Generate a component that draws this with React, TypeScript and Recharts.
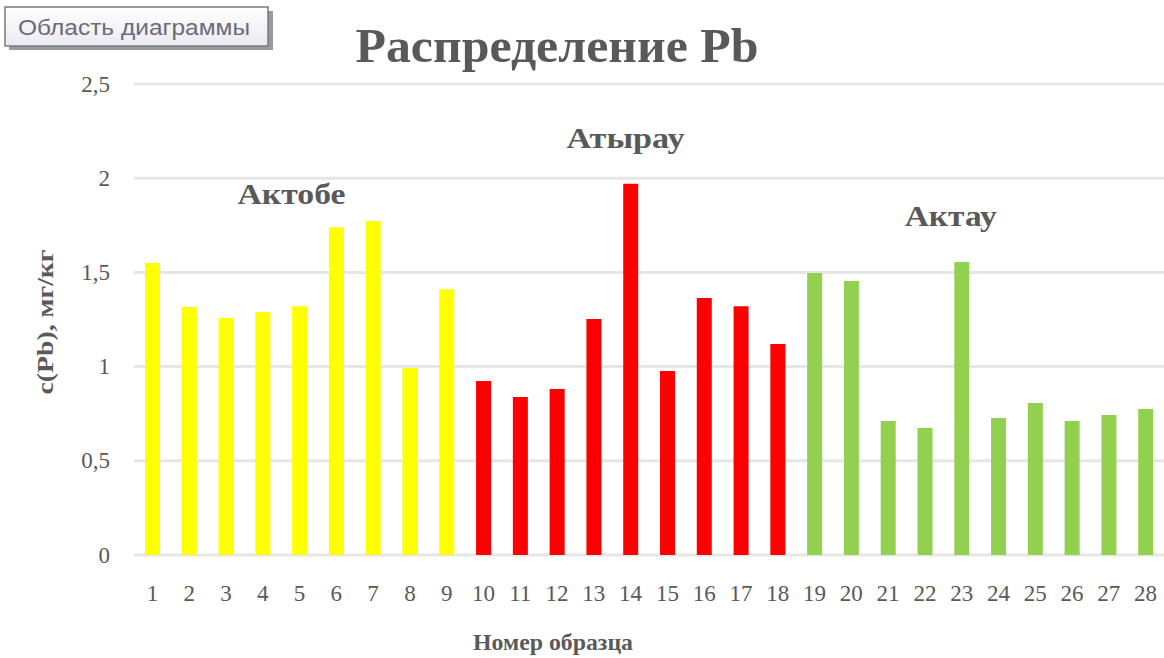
import React from 'react';
import { BarChart, Bar, XAxis, YAxis, CartesianGrid, Cell, ReferenceDot, Label } from 'recharts';

const samples = ['1','2','3','4','5','6','7','8','9','10','11','12','13','14','15','16','17','18','19','20','21','22','23','24','25','26','27','28'];
const pbValues = [1.55,1.316,1.258,1.29,1.32,1.74,1.773,0.993,1.41,0.924,0.839,0.881,1.253,1.97,0.977,1.364,1.32,1.12,1.497,1.454,0.711,0.674,1.555,0.727,0.807,0.711,0.743,0.775];
const sampleRegion = [0,0,0,0,0,0,0,0,0,1,1,1,1,1,1,1,1,1,2,2,2,2,2,2,2,2,2,2];
const regionNames = ['Актобе', 'Атырау', 'Актау'];
const regionColors = ['#FFFF00', '#FF0000', '#92D050'];
const regionLabelSample = ['5', '14', '23'];
const regionLabelValue = [1.915, 2.215, 1.8];
const regionLabelShift = [-8, -5, -11];
const regionLabelWidth = [108, 118, 92];
const yTicks = [0, 0.5, 1, 1.5, 2, 2.5];

const data = samples.map((s, i) => ({ sample: s, pb: pbValues[i], region: sampleRegion[i] }));

const SERIF = '"Liberation Serif", "Times New Roman", serif';
const GRAY = '#595959';

const YTick = (props: any) => {
  const { y, payload } = props;
  return (
    <text x={110} y={y} textAnchor="end" dominantBaseline="central" fontFamily={SERIF} fontSize={23} fill={GRAY}>
      {String(payload.value).replace('.', ',')}
    </text>
  );
};

const XTick = (props: any) => {
  const { x, payload } = props;
  return (
    <text x={x} y={601} textAnchor="middle" fontFamily={SERIF} fontSize={23} fill={GRAY}>
      {payload.value}
    </text>
  );
};

const RegionLabel = (text: string, shift: number, width: number) => (props: any) => (
  <text x={props.cx + shift} y={props.cy} textAnchor="middle" dominantBaseline="central" fontFamily={SERIF} fontWeight="bold" fontSize={29} fill={GRAY} textLength={width} lengthAdjust="spacingAndGlyphs">
    {text}
  </text>
);

export default function App() {
  return (
    <div style={{ position: 'absolute', left: 0, top: 0, width: 1164, height: 658, background: '#fff' }}>
      <BarChart width={1164} height={658} data={data} margin={{ top: 84, right: 0, bottom: 0, left: 0 }} barCategoryGap={0}>
        <CartesianGrid vertical={false} stroke="#e6e6e6" strokeWidth={3} />
        <XAxis dataKey="sample" height={103} axisLine={false} tickLine={false} interval={0} tick={<XTick />}>
          <Label content={() => (
            <text x={553} y={650} textAnchor="middle" fontFamily={SERIF} fontWeight="bold" fontSize={24} fill={GRAY} textLength={160} lengthAdjust="spacingAndGlyphs">Номер образца</text>
          )} />
        </XAxis>
        <YAxis width={134} domain={[0, 2.5]} ticks={yTicks} axisLine={false} tickLine={false} tick={<YTick />} interval={0}>
          <Label content={() => (
            <text transform="translate(53,322) rotate(-90)" textAnchor="middle" fontFamily={SERIF} fontWeight="bold" fontSize={23} fill={GRAY} textLength={145} lengthAdjust="spacingAndGlyphs">c(Pb), мг/кг</text>
          )} />
        </YAxis>
        <Bar dataKey="pb" barSize={15} isAnimationActive={false}>
          {data.map((d, i) => (
            <Cell key={i} fill={regionColors[d.region]} />
          ))}
        </Bar>
        {regionNames.map((name, i) => (
          <ReferenceDot key={name} x={regionLabelSample[i]} y={regionLabelValue[i]} r={0} ifOverflow="visible" shape={RegionLabel(name, regionLabelShift[i], regionLabelWidth[i])} />
        ))}
      </BarChart>
      <svg width={1164} height={658} style={{ position: 'absolute', left: 0, top: 0, pointerEvents: 'none' }}>
        <defs>
          <linearGradient id="btn" x1="0" y1="0" x2="0" y2="1">
            <stop offset="0" stopColor="#ffffff" />
            <stop offset="1" stopColor="#e9e9f1" />
          </linearGradient>
        </defs>
        <rect x={9} y={11} width={264} height={39} fill="#9a9a9a" />
        <rect x={5} y={7} width={263} height={39} fill="url(#btn)" stroke="#7a7a7a" strokeWidth={1.5} />
        <text x={18} y={35} fontFamily='"Liberation Sans", Arial, sans-serif' fontSize={22} fill="#6b6b78" textLength={232} lengthAdjust="spacingAndGlyphs">Область диаграммы</text>
        <text x={557} y={62} textAnchor="middle" fontFamily={SERIF} fontWeight="bold" fontSize={48} fill={GRAY} textLength={403} lengthAdjust="spacingAndGlyphs">Распределение Pb</text>
      </svg>
    </div>
  );
}
